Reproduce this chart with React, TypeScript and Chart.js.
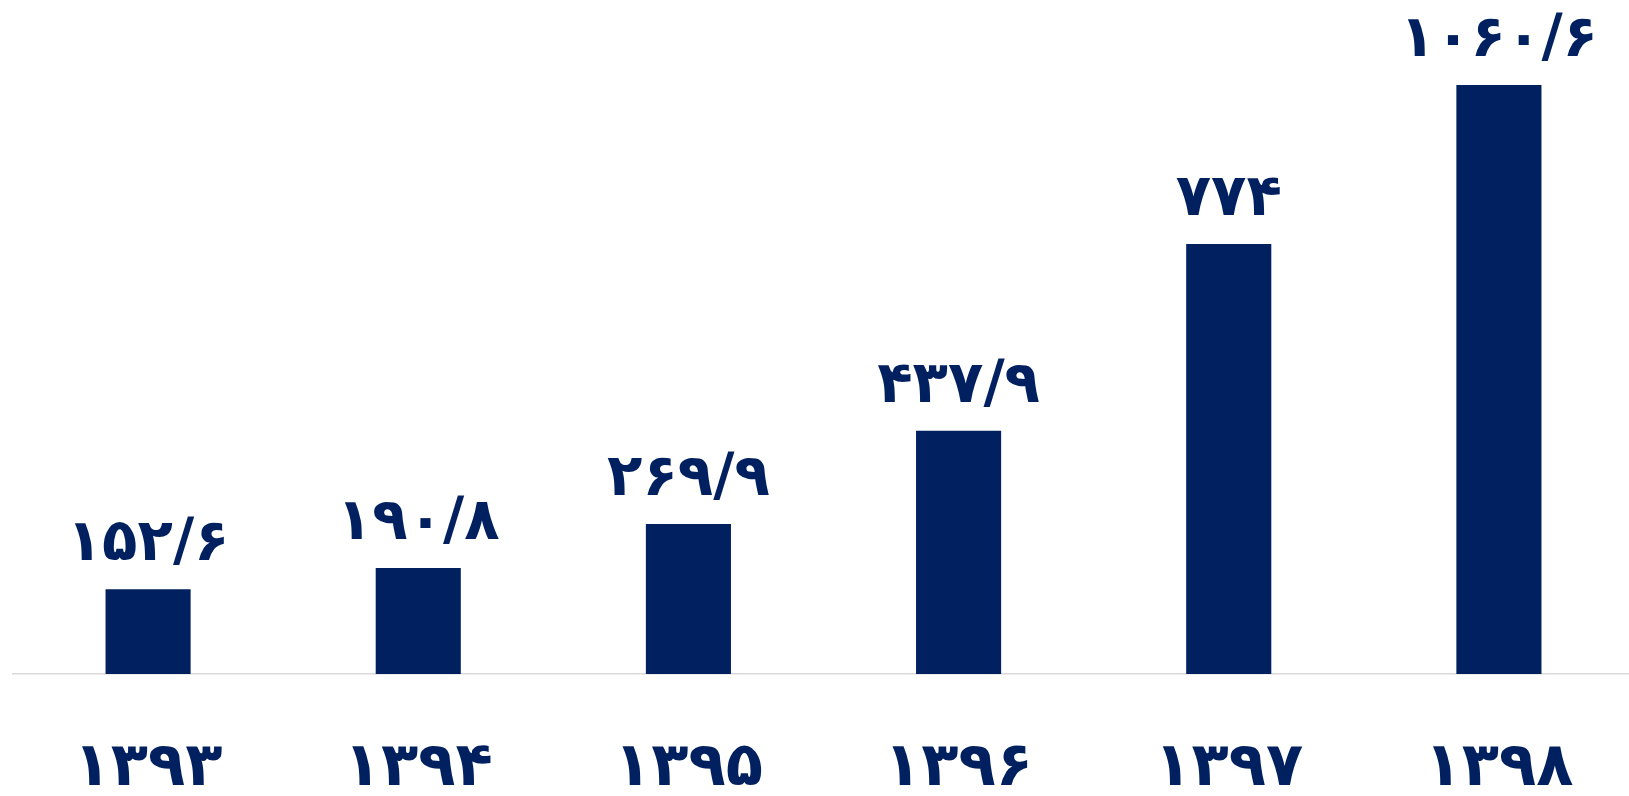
import React, { useEffect, useRef } from "react";
import { Chart, registerables } from "chart.js";

Chart.register(...registerables);

const categories = ["۱۳۹۳", "۱۳۹۴", "۱۳۹۵", "۱۳۹۶", "۱۳۹۷", "۱۳۹۸"];
const values = [152.6, 190.8, 269.9, 437.9, 774, 1060.6];
const valueLabels = ["۱۵۲/۶", "۱۹۰/۸", "۲۶۹/۹", "۴۳۷/۹", "۷۷۴", "۱۰۶۰/۶"];

const BAR_COLOR = "#00205F";
const FONT = "'DejaVu Sans', sans-serif";

const labelPlugin = {
  id: "valueLabels",
  afterDatasetsDraw(chart: any) {
    const ctx = chart.ctx;
    const meta = chart.getDatasetMeta(0);
    ctx.save();
    ctx.fillStyle = BAR_COLOR;
    ctx.font = `bold 58px ${FONT}`;
    ctx.textAlign = "center";
    ctx.textBaseline = "alphabetic";
    meta.data.forEach((bar: any, i: number) => {
      ctx.fillText(valueLabels[i], bar.x, bar.y - 29);
    });
    ctx.restore();
  },
};

export default function App() {
  const ref = useRef<HTMLCanvasElement>(null);
  useEffect(() => {
    if (!ref.current) return;
    const chart = new Chart(ref.current, {
      type: "bar",
      data: {
        labels: categories,
        datasets: [
          {
            data: values,
            backgroundColor: BAR_COLOR,
            barPercentage: 0.63,
            categoryPercentage: 0.5,
          },
        ],
      },
      options: {
        animation: false,
        responsive: true,
        maintainAspectRatio: false,
        layout: { padding: { left: 13, right: 0, top: 63, bottom: 0 } },
        plugins: { legend: { display: false }, tooltip: { enabled: false } },
        scales: {
          x: {
            grid: { display: false, drawTicks: false },
            border: { display: true, color: "#d9d9d9", width: 1.5 },
            ticks: {
              color: BAR_COLOR,
              padding: 59,
              maxRotation: 0,
              autoSkip: false,
              font: { family: FONT, size: 61, weight: "bold" },
            },
            afterFit: (scale: any) => {
              scale.height = 122;
            },
          },
          y: {
            display: false,
            min: 0,
            max: 1100,
          },
        },
      },
      plugins: [labelPlugin],
    });
    return () => chart.destroy();
  }, []);
  return (
    <div
      style={{
        position: "absolute",
        left: 0,
        top: 0,
        width: 1629,
        height: 796,
        overflow: "hidden",
      }}
    >
      <div style={{ position: "relative", width: 1634, height: 796 }}>
        <canvas ref={ref} style={{ display: "block" }} />
      </div>
    </div>
  );
}
